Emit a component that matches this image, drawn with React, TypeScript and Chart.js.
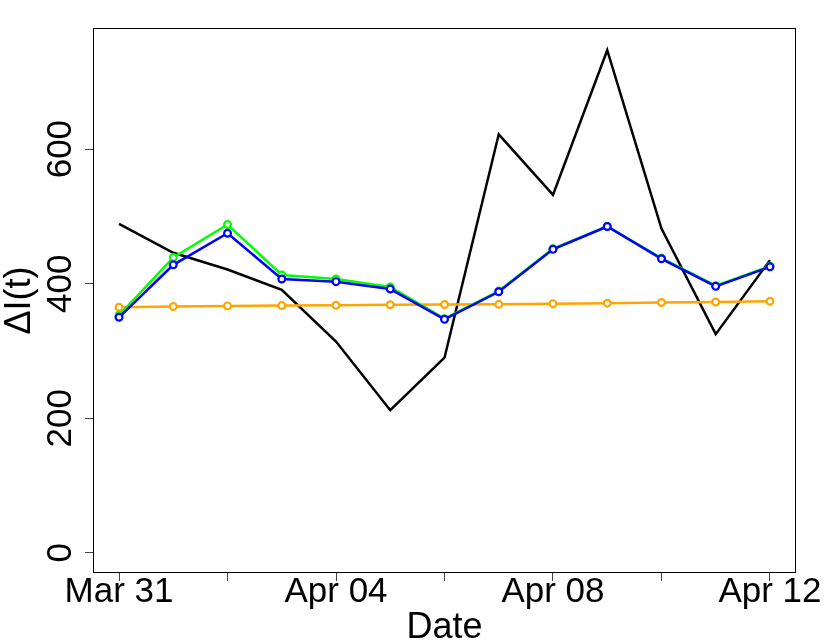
import React, { useEffect, useRef } from 'react';
import { Chart, registerables } from 'chart.js';

Chart.register(...registerables);

// Data
const dates = ['Mar 31', 'Apr 01', 'Apr 02', 'Apr 03', 'Apr 04', 'Apr 05', 'Apr 06', 'Apr 07', 'Apr 08', 'Apr 09', 'Apr 10', 'Apr 11', 'Apr 12'];
const observed = [489, 446, 421, 391, 314, 212, 290, 622, 532, 747, 482, 325, 435];
const greenSeries = [353, 439, 488, 413, 407, 395, 348, 389, 452, 485, 438, 397, 426];
const blueSeries = [350, 428, 475, 407, 403, 392, 347, 388, 451, 485, 437, 396, 425];
const orangeSeries = [365, 366, 367, 367.5, 368, 368.7, 369, 369.3, 370.3, 371, 372, 372.8, 373.8];
const yTicks = [0, 200, 400, 600];
const xTickDays = [0, 2, 4, 6, 8, 10, 12];
const xLabelDays = [0, 4, 8, 12];

const FONT = "'Liberation Sans', Arial, Helvetica, sans-serif";

const toPoints = (arr: number[]) => arr.map((y, i) => ({ x: i, y }));

const boxPlugin = {
  id: 'plotBox',
  afterDraw(chart: any) {
    const { ctx, chartArea: a } = chart;
    ctx.save();
    ctx.strokeStyle = '#000';
    ctx.lineWidth = 1;
    ctx.strokeRect(Math.round(a.left) + 0.5, Math.round(a.top) + 0.5, Math.round(a.right - a.left) - 1, Math.round(a.bottom - a.top) - 1);
    ctx.restore();
  },
};

export default function App() {
  const ref = useRef<HTMLCanvasElement | null>(null);

  useEffect(() => {
    if (!ref.current) return;
    const markerSet = (color: string) => ({
      borderColor: color,
      backgroundColor: '#fff',
      pointBorderColor: color,
      pointBackgroundColor: '#fff',
      pointRadius: 3.4,
      pointBorderWidth: 2.2,
      borderWidth: 2.5,
      tension: 0,
      fill: false,
    });
    const chart = new Chart(ref.current, {
      type: 'line',
      data: {
        datasets: [
          { label: 'blue', data: toPoints(blueSeries), ...markerSet('#0000FF') },
          { label: 'green', data: toPoints(greenSeries), ...markerSet('#00FF00') },
          { label: 'orange', data: toPoints(orangeSeries), ...markerSet('#FFA500') },
          {
            label: 'observed',
            data: toPoints(observed),
            borderColor: '#000',
            backgroundColor: '#000',
            borderWidth: 2.5,
            pointRadius: 0,
            tension: 0,
            fill: false,
          },
        ],
      },
      options: {
        responsive: false,
        animation: false,
        events: [],
        layout: { padding: { top: 28, right: 34, left: 0, bottom: 0 } },
        plugins: { legend: { display: false }, tooltip: { enabled: false } },
        scales: {
          x: {
            type: 'linear',
            min: -0.48,
            max: 12.48,
            border: { display: false },
            grid: { display: true, drawOnChartArea: false, drawTicks: true, tickLength: 8, color: '#444', lineWidth: 1 },
            afterBuildTicks: (scale: any) => {
              scale.ticks = xTickDays.map((v) => ({ value: v }));
            },
            afterFit: (scale: any) => {
              scale.height = 69;
              scale.paddingLeft = 0;
              scale.paddingRight = 0;
            },
            ticks: {
              autoSkip: false,
              minRotation: 0,
              maxRotation: 0,
              padding: -6,
              color: '#000',
              font: { family: FONT, size: 35, lineHeight: 1 },
              callback: (v: any) => (xLabelDays.includes(Number(v)) ? dates[Number(v)] : ''),
            },
            title: {
              display: true,
              text: 'Date',
              color: '#000',
              font: { family: FONT, size: 36, lineHeight: 1 },
              padding: { top: 0, bottom: -4 },
            },
          },
          y: {
            type: 'linear',
            min: -30,
            max: 780,
            border: { display: false },
            grid: { display: true, drawOnChartArea: false, drawTicks: true, tickLength: 8, color: '#444', lineWidth: 1 },
            afterBuildTicks: (scale: any) => {
              scale.ticks = yTicks.map((v) => ({ value: v }));
            },
            afterFit: (scale: any) => {
              scale.width = 93;
              scale.paddingTop = 0;
              scale.paddingBottom = 0;
            },
            ticks: {
              autoSkip: false,
              minRotation: 90,
              maxRotation: 90,
              crossAlign: 'center',
              padding: -6,
              color: '#000',
              font: { family: FONT, size: 35, lineHeight: 1 },
              callback: (v: any) => String(v),
            },
            title: {
              display: true,
              text: 'ΔI(t)',
              color: '#000',
              font: { family: FONT, size: 36, lineHeight: 1 },
              padding: { top: 2, bottom: 0 },
            },
          },
        },
      },
      plugins: [boxPlugin],
    } as any);
    return () => chart.destroy();
  }, []);

  return (
    <div style={{ position: 'absolute', left: 0, top: 0, width: 830, height: 642, background: '#fff' }}>
      <canvas ref={ref} width={830} height={642} style={{ display: 'block' }} />
    </div>
  );
}
